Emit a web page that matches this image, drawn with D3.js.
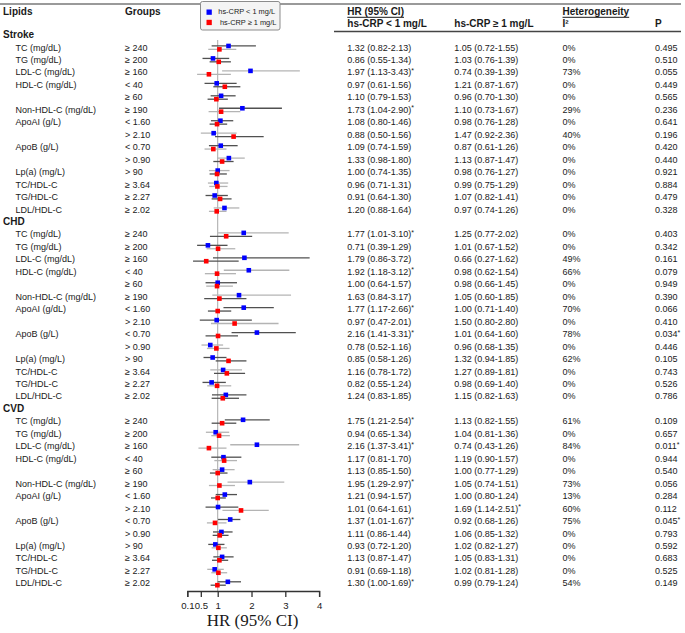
<!DOCTYPE html>
<html>
<head>
<meta charset="utf-8">
<script src="https://cdn.jsdelivr.net/npm/d3@7"></script>
<style>
  html, body { margin: 0; padding: 0; background: #fff; }
  svg { display: block; font-family: "Liberation Sans", Arial, sans-serif; }
</style>
</head>
<body>
<svg id="chart" width="685" height="633"></svg>
<script>
// ---------------- DATA ----------------
const outcomes = ["Stroke", "CHD", "CVD"];
const lipids = ["TC (mg/dL)", "TG (mg/dL)", "LDL-C (mg/dL)", "HDL-C (mg/dL)", "", "Non-HDL-C (mg/dL)",
  "ApoAI (g/L)", "", "ApoB (g/L)", "", "Lp(a) (mg/L)", "TC/HDL-C", "TG/HDL-C", "LDL/HDL-C"];
const lipidsCHD = ["TC (mg/dL)", "TG (mg/dL)", "LDL-C (mg/dL)", "HDL-C (mg/dL)", "", "Non-HDL-C (mg/dL)",
  "ApoAI (g/dL)", "", "ApoB (g/L)", "", "Lp(a) (mg/L)", "TC/HDL-C", "TG/HDL-C", "LDL/HDL-C"];
const groups = ["≥ 240", "≥ 200", "≥ 160", "< 40", "≥ 60", "≥ 190", "< 1.60", "> 2.10", "< 0.70", "> 0.90",
  "> 90", "≥ 3.64", "≥ 2.27", "≥ 2.02"];
const legendLabels = ["hs-CRP < 1 mg/L", "hs-CRP ≥ 1 mg/L"];
const xTicks = [0.1, 0.5, 1, 2, 3, 4];

// [HR, lower, upper]  hs-CRP < 1 mg/L
const strokeLow = [[1.32,0.82,2.13],[0.86,0.55,1.34],[1.97,1.13,3.43],[0.97,0.61,1.56],[1.10,0.79,1.53],[1.73,1.04,2.90],
  [1.08,0.80,1.46],[0.88,0.50,1.56],[1.09,0.74,1.59],[1.33,0.98,1.80],[1.00,0.74,1.35],[0.96,0.71,1.31],[0.91,0.64,1.30],[1.20,0.88,1.64]];
// [HR, lower, upper]  hs-CRP >= 1 mg/L
const strokeHigh = [[1.05,0.72,1.55],[1.03,0.76,1.39],[0.74,0.39,1.39],[1.21,0.87,1.67],[0.96,0.70,1.30],[1.10,0.73,1.67],
  [0.98,0.76,1.28],[1.47,0.92,2.36],[0.87,0.61,1.26],[1.13,0.87,1.47],[0.98,0.76,1.27],[0.99,0.75,1.29],[1.07,0.82,1.41],[0.97,0.74,1.26]];
const strokeI2 = [0,0,73,0,0,29,0,40,0,0,0,0,0,0];
const strokeP = ["0.495","0.510","0.055","0.449","0.565","0.236","0.641","0.196","0.420","0.440","0.921","0.884","0.479","0.328"];

const chdLow = [[1.77,1.01,3.10],[0.71,0.39,1.29],[1.79,0.86,3.72],[1.92,1.18,3.12],[1.00,0.64,1.57],[1.63,0.84,3.17],
  [1.77,1.17,2.66],[0.97,0.47,2.01],[2.16,1.41,3.31],[0.78,0.52,1.16],[0.85,0.58,1.26],[1.16,0.78,1.72],[0.82,0.55,1.24],[1.24,0.83,1.85]];
const chdHigh = [[1.25,0.77,2.02],[1.01,0.67,1.52],[0.66,0.27,1.62],[0.98,0.62,1.54],[0.98,0.66,1.45],[1.05,0.60,1.85],
  [1.00,0.71,1.40],[1.50,0.80,2.80],[1.01,0.64,1.60],[0.96,0.68,1.35],[1.32,0.94,1.85],[1.27,0.89,1.81],[0.98,0.69,1.40],[1.15,0.82,1.63]];
const chdI2 = [0,0,49,66,0,0,70,0,78,0,62,0,0,0];
const chdP = ["0.403","0.342","0.161","0.079","0.949","0.390","0.066","0.410","0.034","0.446","0.105","0.743","0.526","0.786"];

const cvdLow = [[1.75,1.21,2.54],[0.94,0.65,1.34],[2.16,1.37,3.41],[1.17,0.81,1.70],[1.13,0.85,1.50],[1.95,1.29,2.97],
  [1.21,0.94,1.57],[1.01,0.64,1.61],[1.37,1.01,1.67],[1.11,0.86,1.44],[0.93,0.72,1.20],[1.13,0.87,1.47],[0.91,0.69,1.18],[1.30,1.00,1.69]];
const cvdHigh = [[1.13,0.82,1.55],[1.04,0.81,1.36],[0.74,0.43,1.26],[1.19,0.90,1.57],[1.00,0.77,1.29],[1.05,0.74,1.51],
  [1.00,0.80,1.24],[1.69,1.14,2.51],[0.92,0.68,1.26],[1.06,0.85,1.32],[1.02,0.82,1.27],[1.05,0.83,1.31],[1.02,0.81,1.28],[0.99,0.79,1.24]];
const cvdI2 = [61,0,84,0,0,73,13,60,75,0,0,0,0,54];
const cvdP = ["0.109","0.657","0.011","0.944","0.540","0.056","0.284","0.112","0.045","0.793","0.592","0.683","0.525","0.149"];

// significance markers as printed in the table
const strokeLowSig = [0,0,1,0,0,1,0,0,0,0,0,0,0,0];
const strokeHighSig = [0,0,0,0,0,0,0,0,0,0,0,0,0,0];
const chdLowSig = [1,0,0,1,0,0,1,0,1,0,0,0,0,0];
const chdHighSig = [0,0,0,0,0,0,0,0,0,0,0,0,0,0];
const cvdLowSig = [1,0,1,0,0,1,0,0,1,0,0,0,0,1];
const cvdHighSig = [0,0,0,0,0,0,0,1,0,0,0,0,0,0];
const strokePSig = [0,0,0,0,0,0,0,0,0,0,0,0,0,0];
const chdPSig = [0,0,0,0,0,0,0,0,1,0,0,0,0,0];
const cvdPSig = [0,0,1,0,0,0,0,0,1,0,0,0,0,0];

// CI line shade per row: [blue series, red series]  d = dark, l = light
const strokeShade = ["dl","dd","ll","dd","dd","dl","dd","ld","dl","ld","ld","ll","dd","ll"];
const chdShade = ["ld","dl","dd","ll","dl","ld","dd","dl","dd","ll","dd","ld","dl","dd"];
const cvdShade = ["dd","ll","ll","dl","ld","ll","dd","dl","dl","dd","dl","dd","ll","dd"];

// ---------------- BUILD ROWS ----------------
const blocks = [
  {name: outcomes[0], labels: lipids, low: strokeLow, high: strokeHigh, i2: strokeI2, p: strokeP,
   lowSig: strokeLowSig, highSig: strokeHighSig, pSig: strokePSig, shade: strokeShade},
  {name: outcomes[1], labels: lipidsCHD, low: chdLow, high: chdHigh, i2: chdI2, p: chdP,
   lowSig: chdLowSig, highSig: chdHighSig, pSig: chdPSig, shade: chdShade},
  {name: outcomes[2], labels: lipids, low: cvdLow, high: cvdHigh, i2: cvdI2, p: cvdP,
   lowSig: cvdLowSig, highSig: cvdHighSig, pSig: cvdPSig, shade: cvdShade}
];
const rows = [];
blocks.forEach(b => {
  rows.push({header: true, name: b.name});
  groups.forEach((g, i) => {
    rows.push({header: false, lipid: b.labels[i], group: g, low: b.low[i], high: b.high[i],
      i2: b.i2[i], p: b.p[i], lowSig: b.lowSig[i], highSig: b.highSig[i], pSig: b.pSig[i], shade: b.shade[i]});
  });
});

// ---------------- DRAW ----------------
const svg = d3.select("#chart");
const ink = "#1a1a1a";
const blue = "#0000ff", red = "#ff0000";
const darkLine = "#505050", lightLine = "#b4b4b4";

const y = d3.scaleLinear().domain([0, rows.length - 1]).range([35.7, 584]);
const x = d3.scaleLinear().domain([0.1, 4]).range([187.3, 319.1]);

// top gray rule
svg.append("line").attr("x1", 0).attr("x2", 681).attr("y1", 4).attr("y2", 4)
  .attr("stroke", "#9a9a9a").attr("stroke-width", 2);

// headers
const hdr = svg.append("g").attr("font-weight", "bold").attr("font-size", 10).attr("fill", ink);
hdr.append("text").attr("x", 3).attr("y", 12).attr("dominant-baseline", "middle").text("Lipids");
hdr.append("text").attr("x", 125).attr("y", 12).attr("dominant-baseline", "middle").text("Groups");
const hrT = hdr.append("text").attr("x", 347.3).attr("y", 12).attr("dominant-baseline", "middle").text("HR (95% CI)");
const hetT = hdr.append("text").attr("x", 562.5).attr("y", 12).attr("dominant-baseline", "middle").text("Heterogeneity");
hdr.append("text").attr("x", 347.3).attr("y", 24).attr("dominant-baseline", "middle").text(legendLabels[0]);
hdr.append("text").attr("x", 454.3).attr("y", 24).attr("dominant-baseline", "middle").text(legendLabels[1]);
hdr.append("text").attr("x", 562.5).attr("y", 24).attr("dominant-baseline", "middle").text("I²");
hdr.append("text").attr("x", 655).attr("y", 24).attr("dominant-baseline", "middle").text("P");
[hrT, hetT].forEach(t => {
  const w = t.node().getComputedTextLength();
  const x0 = +t.attr("x");
  svg.append("line").attr("x1", x0).attr("x2", x0 + w).attr("y1", 17.3).attr("y2", 17.3)
    .attr("stroke", ink).attr("stroke-width", 1);
});
svg.append("line").attr("x1", 334).attr("x2", 681).attr("y1", 31.5).attr("y2", 31.5)
  .attr("stroke", "#444").attr("stroke-width", 1.3);

// legend
const leg = svg.append("g");
leg.append("rect").attr("x", 200.5).attr("y", 1.5).attr("width", 79.5).attr("height", 28.5).attr("rx", 2)
  .attr("fill", "#f4f4f4").attr("stroke", "#8c8c8c").attr("stroke-width", 1);
[blue, red].forEach((c, i) => {
  leg.append("rect").attr("x", 206.5).attr("y", 9.5 + i * 10.3).attr("width", 5.3).attr("height", 5.3).attr("fill", c);
  leg.append("text").attr("x", 218.3 + i * 1.6).attr("y", 12.4 + i * 10.3).attr("dominant-baseline", "middle")
    .attr("font-size", 7.4).attr("fill", ink).text(legendLabels[i]);
});

// reference line at HR = 1
svg.append("line").attr("x1", x(1)).attr("x2", x(1)).attr("y1", 40).attr("y2", 591)
  .attr("stroke", "#a8a8a8").attr("stroke-width", 1);

// rows
const body = svg.append("g").attr("fill", ink);
function ciText(sel, v, sig) {
  sel.text(`${v[0].toFixed(2)} (${v[1].toFixed(2)}-${v[2].toFixed(2)})`);
  if (sig) sel.append("tspan").attr("font-size", 7).attr("dy", -2).text("*");
}
rows.forEach((r, i) => {
  const yy = y(i);
  if (r.header) {
    body.append("text").attr("x", 3).attr("y", yy).attr("dominant-baseline", "middle")
      .attr("font-size", 10).attr("font-weight", "bold").text(r.name);
    return;
  }
  const t = (xx, txt) => body.append("text").attr("x", xx).attr("y", yy).attr("dominant-baseline", "middle")
    .attr("font-size", 9).text(txt);
  if (r.lipid) t(15.5, r.lipid);
  t(125, r.group);
  ciText(t(347.3, ""), r.low, r.lowSig);
  ciText(t(454.3, ""), r.high, r.highSig);
  t(562.5, r.i2 + "%");
  const pt = t(655, r.p);
  if (r.pSig) pt.append("tspan").attr("font-size", 7).attr("dy", -2).text("*");

  // CI lines and points
  const series = [{v: r.low, c: blue, dy: -2.2, s: r.shade[0]}, {v: r.high, c: red, dy: 1.2, s: r.shade[1]}];
  series.forEach(s => {
    const yl = yy + s.dy;
    svg.append("line").attr("x1", x(s.v[1])).attr("x2", x(s.v[2])).attr("y1", yl).attr("y2", yl)
      .attr("stroke", s.s === "d" ? darkLine : lightLine).attr("stroke-width", 1.3);
  });
  series.forEach(s => {
    const yl = yy + s.dy;
    svg.append("rect").attr("x", x(s.v[0]) - 2.3).attr("y", yl - 2.3).attr("width", 4.6).attr("height", 4.6)
      .attr("fill", s.c);
  });
});

// x axis
const axis = d3.axisBottom(x).tickValues(xTicks).tickFormat(d3.format("")).tickSize(6).tickPadding(5);
const ax = svg.append("g").attr("transform", "translate(0,591)").call(axis);
ax.select(".domain").attr("stroke", "#333").attr("stroke-width", 1.3);
ax.selectAll(".tick line").attr("stroke", "#333").attr("stroke-width", 1.3);
ax.selectAll(".tick text").attr("font-size", 9.6).attr("fill", ink)
  .attr("font-family", "'Liberation Sans', Arial, sans-serif");

svg.append("text").attr("x", x(2.03)).attr("y", 622).attr("text-anchor", "middle").attr("dominant-baseline", "middle")
  .attr("font-family", "'Liberation Serif', 'Times New Roman', serif").attr("font-size", 17).attr("fill", ink)
  .text("HR (95% CI)");
</script>
</body>
</html>
